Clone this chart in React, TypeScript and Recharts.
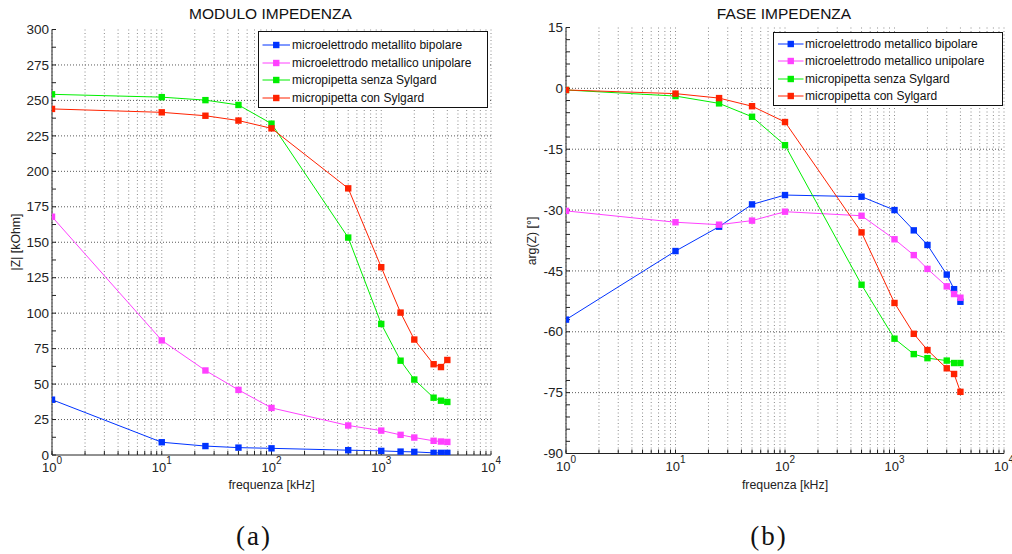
import React from 'react';
import { LineChart, Line, XAxis, YAxis, CartesianGrid, ReferenceLine, Legend } from 'recharts';

const frequencies = [1, 10, 25, 50, 100, 500, 1000, 1500, 2000, 3000, 3500, 4000];

const moduloBipolare = [39, 9, 6.3, 5.2, 4.7, 3.4, 2.9, 2.4, 2.2, 1.5, 1.5, 1.5];
const moduloUnipolare = [168, 80.8, 59.6, 45.9, 33.2, 20.8, 17.2, 14.2, 12.3, 10, 9.5, 9.2];
const moduloSenzaSylgard = [254.3, 252.3, 250.2, 246.8, 233.6, 153.3, 92.4, 66.5, 53.2, 40.4, 38.3, 37.4];
const moduloConSylgard = [244, 241.6, 239.2, 235.8, 230.3, 188, 132.4, 100.4, 81.4, 64, 62, 67];

const faseBipolare = [-57, -40.1, -34.1, -28.6, -26.3, -26.7, -30, -35, -38.6, -45.9, -49.5, -52.6];
const faseUnipolare = [-30.2, -33, -33.6, -32.6, -30.4, -31.4, -37.2, -41.1, -44.5, -48.8, -50.7, -51.6];
const faseSenzaSylgard = [-0.4, -1.9, -3.7, -7.0, -14, -48.4, -61.7, -65.5, -66.5, -67.1, -67.7, -67.7];
const faseConSylgard = [-0.4, -1.3, -2.4, -4.4, -8.3, -35.5, -52.9, -60.5, -64.5, -69, -70.4, -74.8];

const moduloNames = [
  'microelettrodo metallito bipolare',
  'microelettrodo metallico unipolare',
  'micropipetta senza Sylgard',
  'micropipetta con Sylgard',
];
const faseNames = [
  'microelettrodo metallico bipolare',
  'microelettrodo metallico unipolare',
  'micropipetta senza Sylgard',
  'micropipetta con Sylgard',
];
const seriesColors = ['#0033ff', '#ff40ff', '#00ee00', '#ff2200'];

const xTicks = [
  1, 2, 3, 4, 5, 6, 7, 8, 9,
  10, 20, 30, 40, 50, 60, 70, 80, 90,
  100, 200, 300, 400, 500, 600, 700, 800, 900,
  1000, 2000, 3000, 4000, 5000, 6000, 7000, 8000, 9000,
  10000,
];
const xDecades = [1, 10, 100, 1000, 10000];
const xDecadeExponents = ['0', '1', '2', '3', '4'];

const moduloTicks = [0, 25, 50, 75, 100, 125, 150, 175, 200, 225, 250, 275, 300];
const moduloMinorTicks = [
  0, 12.5, 25, 37.5, 50, 62.5, 75, 87.5, 100, 112.5, 125, 137.5, 150, 162.5, 175, 187.5,
  200, 212.5, 225, 237.5, 250, 262.5, 275, 287.5, 300,
];
const faseTicks = [-90, -75, -60, -45, -30, -15, 0, 15];
const faseMinorTicks = [
  -90, -87, -84, -81, -78, -75, -72, -69, -66, -63, -60, -57, -54, -51, -48, -45, -42, -39,
  -36, -33, -30, -27, -24, -21, -18, -15, -12, -9, -6, -3, 0, 3, 6, 9, 12, 15,
];

const FONT = '"Liberation Sans", Arial, Helvetica, sans-serif';
const TEXT = '#222';

type Row = { f: number; s0: number; s1: number; s2: number; s3: number };
const buildRows = (a: number[], b: number[], c: number[], d: number[]): Row[] =>
  frequencies.map((f, i) => ({ f, s0: a[i], s1: b[i], s2: c[i], s3: d[i] }));

const moduloRows = buildRows(moduloBipolare, moduloUnipolare, moduloSenzaSylgard, moduloConSylgard);
const faseRows = buildRows(faseBipolare, faseUnipolare, faseSenzaSylgard, faseConSylgard);

const renderXTick = (props: any) => {
  const { x, y, payload } = props;
  const idx = xDecades.indexOf(payload.value);
  if (idx < 0) return <g />;
  return (
    <text x={x} y={y + 17} textAnchor="middle" fontSize={13} fontFamily={FONT} fill={TEXT}>
      10
      <tspan dy={-8} fontSize={10}>
        {xDecadeExponents[idx]}
      </tspan>
    </text>
  );
};

const makeYTick = (majors: number[]) => (props: any) => {
  const { x, y, payload } = props;
  if (majors.indexOf(payload.value) < 0) return <g />;
  return (
    <text x={x} y={y} dy={4.7} textAnchor="end" fontSize={13.5} fontFamily={FONT} fill={TEXT}>
      {payload.value}
    </text>
  );
};

const makeDot = (color: string, sid: number) => (props: any) => {
  const { cx, cy, index } = props;
  if (cx == null || cy == null) return <g key={`d${sid}-${index}`} />;
  return <rect key={`d${sid}-${index}`} x={cx - 3.2} y={cy - 3.2} width={6.4} height={6.4} fill={color} />;
};

type LegendSpec = { left: number; top: number; width: number; padTop: number; lineStart: number; textStart: number };

const LegendBox = ({ names, spec }: { names: string[]; spec: LegendSpec }) => (
  <div
    style={{
      border: '1px solid #111',
      background: '#fff',
      width: spec.width,
      boxSizing: 'border-box',
      paddingTop: spec.padTop,
      paddingBottom: 0,
      fontFamily: FONT,
      fontSize: 12,
      color: '#111',
    }}
  >
    {names.map((n, i) => (
      <div key={n + i} style={{ display: 'flex', alignItems: 'center', height: 17.5, whiteSpace: 'nowrap' }}>
        <svg width={spec.textStart} height={10} style={{ display: 'block', flex: 'none' }}>
          <line x1={spec.lineStart} x2={spec.textStart - 2} y1={5} y2={5} stroke={seriesColors[i]} strokeWidth={1} />
          <rect
            x={(spec.lineStart + spec.textStart - 2) / 2 - 3.2}
            y={1.8}
            width={6.4}
            height={6.4}
            fill={seriesColors[i]}
          />
        </svg>
        <span>{n}</span>
      </div>
    ))}
  </div>
);

type PanelProps = {
  rows: Row[];
  names: string[];
  yDomain: [number, number];
  yTicks: number[];
  yMinorTicks: number[];
  width: number;
  height: number;
  margin: { top: number; right: number; bottom: number; left: number };
  legend: LegendSpec;
};

function Panel(p: PanelProps) {
  const gridValues = p.yTicks.filter((v) => v > p.yDomain[0] && v < p.yDomain[1]);
  return (
    <LineChart width={p.width} height={p.height} data={p.rows} margin={p.margin}>
      <CartesianGrid horizontal={false} vertical stroke="#8c8c8c" strokeDasharray="1 2.5" />
      {gridValues.map((v) => (
        <ReferenceLine key={`g${v}`} y={v} stroke="#5a5a5a" strokeDasharray="1 2" />
      ))}
      <XAxis
        dataKey="f"
        type="number"
        scale="log"
        domain={[1, 10000]}
        allowDataOverflow
        ticks={xTicks}
        interval={0}
        tickSize={-4}
        tickMargin={4}
        tick={renderXTick}
        height={30}
        stroke="#222"
      />
      <XAxis
        xAxisId="top"
        orientation="top"
        type="number"
        scale="log"
        domain={[1, 10000]}
        allowDataOverflow
        ticks={xTicks}
        interval={0}
        tickSize={-4}
        tick={false}
        height={0}
        stroke="#222"
      />
      <YAxis
        type="number"
        domain={p.yDomain}
        allowDataOverflow
        ticks={p.yMinorTicks}
        interval={0}
        tickSize={-4}
        tickMargin={7}
        tick={makeYTick(p.yTicks)}
        width={40}
        stroke="#222"
      />
      <YAxis
        yAxisId="right"
        orientation="right"
        type="number"
        domain={p.yDomain}
        allowDataOverflow
        ticks={p.yMinorTicks}
        interval={0}
        tickSize={-4}
        tick={false}
        width={0}
        stroke="#222"
      />
      {p.names.map((n, i) => (
        <Line
          key={`s${i}`}
          type="linear"
          dataKey={`s${i}`}
          name={n}
          stroke={seriesColors[i]}
          strokeWidth={1}
          dot={makeDot(seriesColors[i], i)}
          activeDot={false}
          isAnimationActive={false}
        />
      ))}
      <Legend
        layout="vertical"
        align="center"
        verticalAlign="middle"
        wrapperStyle={{ left: p.legend.left, top: p.legend.top, width: p.legend.width, height: 'auto' }}
        content={() => <LegendBox names={p.names} spec={p.legend} />}
      />
    </LineChart>
  );
}

export default function App() {
  return (
    <div
      style={{
        position: 'absolute',
        left: 0,
        top: 0,
        width: 1012,
        height: 554,
        background: '#fff',
        overflow: 'hidden',
      }}
    >
      <div style={{ position: 'absolute', left: 0, top: 0 }}>
        <Panel
          rows={moduloRows}
          names={moduloNames}
          yDomain={[0, 300]}
          yTicks={moduloTicks}
          yMinorTicks={moduloMinorTicks}
          width={501}
          height={500}
          margin={{ top: 29.5, right: 10, bottom: 15, left: 12 }}
          legend={{ left: 258, top: 31, width: 230, padTop: 4.5, lineStart: 3.5, textStart: 33 }}
        />
      </div>
      <div style={{ position: 'absolute', left: 506, top: 0 }}>
        <Panel
          rows={faseRows}
          names={faseNames}
          yDomain={[-90, 15]}
          yTicks={faseTicks}
          yMinorTicks={faseMinorTicks}
          width={506}
          height={500}
          margin={{ top: 27.5, right: 8, bottom: 16.5, left: 20 }}
          legend={{ left: 266.5, top: 32, width: 230, padTop: 2, lineStart: 4, textStart: 31.5 }}
        />
      </div>
      <svg
        width={1012}
        height={554}
        style={{ position: 'absolute', left: 0, top: 0, pointerEvents: 'none' }}
      >
        <text x={270.5} y={19.3} textAnchor="middle" fontFamily={FONT} fontSize={15.5} fill="#111">
          MODULO IMPEDENZA
        </text>
        <text x={784} y={19.3} textAnchor="middle" fontFamily={FONT} fontSize={15.5} fill="#111">
          FASE IMPEDENZA
        </text>
        <text x={271.5} y={489} textAnchor="middle" fontFamily={FONT} fontSize={12.3} fill={TEXT}>
          frequenza [kHz]
        </text>
        <text x={785} y={489} textAnchor="middle" fontFamily={FONT} fontSize={12.3} fill={TEXT}>
          frequenza [kHz]
        </text>
        <text
          x={0}
          y={0}
          transform="translate(20,242) rotate(-90)"
          textAnchor="middle"
          fontFamily={FONT}
          fontSize={12.3}
          fill={TEXT}
        >
          |Z| [kOhm]
        </text>
        <text
          x={0}
          y={0}
          transform="translate(535.5,241) rotate(-90)"
          textAnchor="middle"
          fontFamily={FONT}
          fontSize={12.3}
          fill={TEXT}
        >
          arg(Z) [°]
        </text>
        <text
          x={254}
          y={544.5}
          textAnchor="middle"
          fontFamily='"Liberation Serif", "DejaVu Serif", serif'
          fontSize={27}
          letterSpacing={2}
          fill="#111"
        >
          (a)
        </text>
        <text
          x={769}
          y={544.5}
          textAnchor="middle"
          fontFamily='"Liberation Serif", "DejaVu Serif", serif'
          fontSize={27}
          letterSpacing={2}
          fill="#111"
        >
          (b)
        </text>
      </svg>
    </div>
  );
}
